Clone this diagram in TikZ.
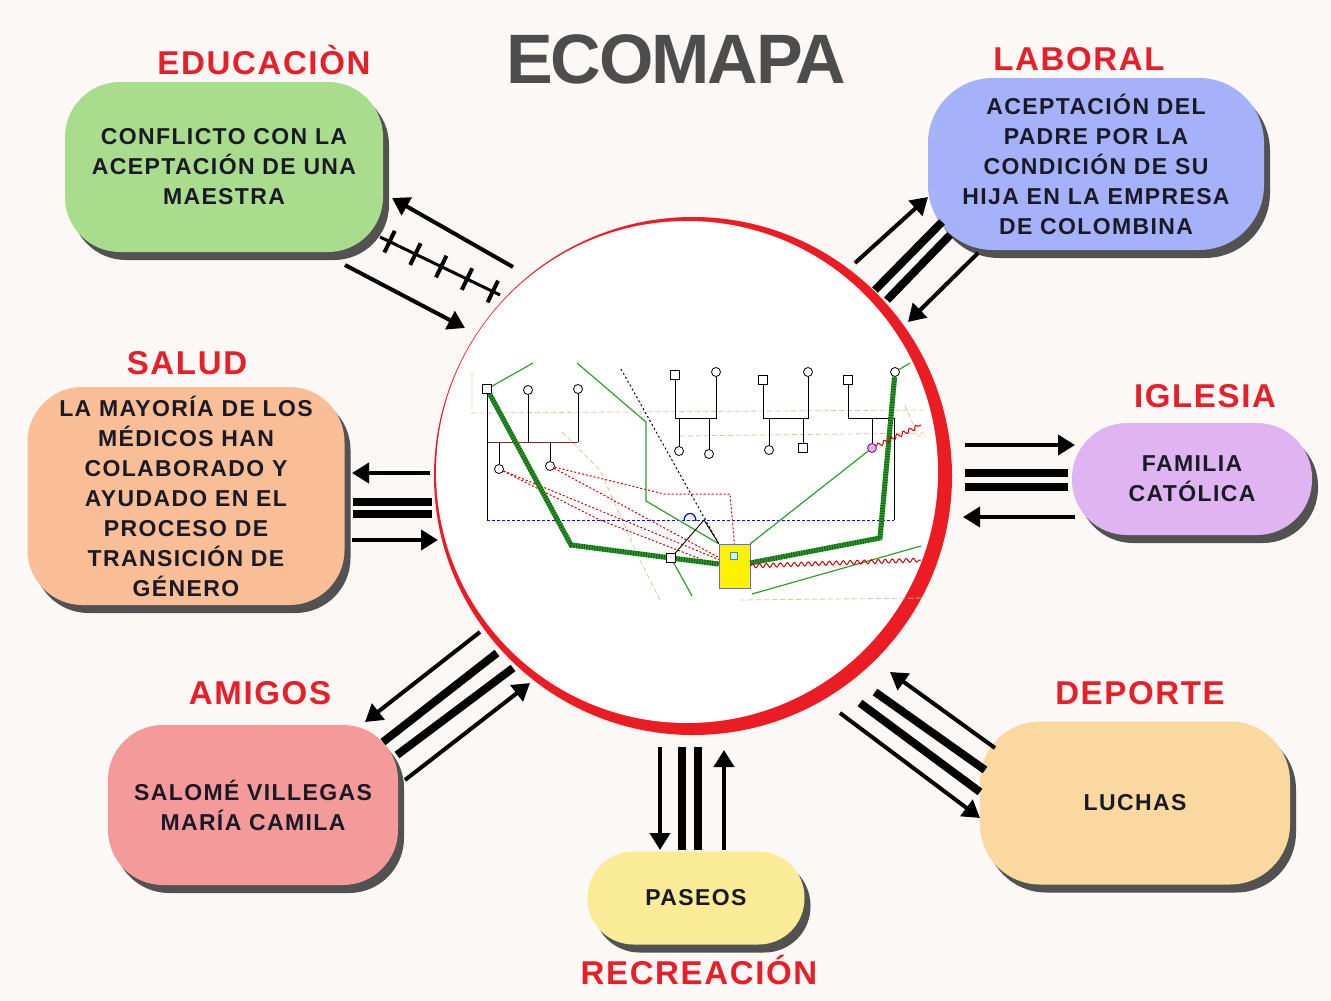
\documentclass[tikz,border=0pt]{standalone}
\usepackage{fontspec}
\setmainfont{Liberation Sans}
\newfontfamily\boxfont[LetterSpace=6]{Liberation Sans}
\newfontfamily\headfont[LetterSpace=5]{Liberation Sans}
\newfontfamily\titlefont[LetterSpace=-3]{Liberation Sans}
\usetikzlibrary{positioning,arrows.meta,shadows,decorations.markings,decorations.pathmorphing}
\definecolor{bgcol}{RGB}{251,248,245}
\definecolor{ringred}{RGB}{236,28,36}
\definecolor{headred}{RGB}{232,30,40}
\definecolor{titlegray}{RGB}{77,77,77}
\definecolor{textdark}{RGB}{26,26,38}
\definecolor{shadowgray}{RGB}{82,82,82}
\definecolor{edugreen}{RGB}{169,220,140}
\definecolor{labblue}{RGB}{165,178,250}
\definecolor{salorange}{RGB}{250,190,150}
\definecolor{iglpurple}{RGB}{224,180,240}
\definecolor{amipink}{RGB}{245,154,154}
\definecolor{recyellow}{RGB}{250,235,150}
\definecolor{deppeach}{RGB}{250,216,160}
\definecolor{genogreen}{RGB}{46,160,46}
\definecolor{genodark}{RGB}{20,100,20}
\definecolor{genobrown}{RGB}{130,40,40}
\definecolor{genofaint}{RGB}{240,190,160}

\begin{document}
\begin{tikzpicture}[x=1pt,y=-1pt,
ecobox/.style={
  rounded corners=55pt,
  align=center,
  inner sep=0pt,
  text=textdark,
  font={\boxfont\bfseries\fontsize{23pt}{30pt}\selectfont},
  drop shadow={shadow xshift=6pt,shadow yshift=-8pt,fill=shadowgray,opacity=1}},
heading/.style={font={\headfont\bfseries\fontsize{33pt}{40pt}\selectfont},text=headred},
rel/.style={line width=4pt},
relarrow/.style={rel,-{Triangle[length=17pt,width=20pt]}},
strongline/.style={line width=8pt},
conflictline/.style={line width=3pt,postaction={decorate},
  decoration={markings,mark=between positions 0.08 and 0.95 step 0.215 with {\draw[line width=4pt] (0,-12pt) -- (0,12pt);}}},
gsq/.style={draw,fill=white,minimum size=9pt,inner sep=0pt,line width=0.8pt},
gci/.style={circle,draw,fill=white,minimum size=9pt,inner sep=0pt,line width=0.8pt},
famline/.style={line width=0.9pt},
closeline/.style={line width=5pt,draw=genogreen,postaction={draw=genodark,line width=5pt,dash pattern=on 1.2pt off 1.4pt}},
thinkin/.style={line width=1.2pt,draw=genogreen},
distant/.style={line width=1pt,draw=red!80!black,dash pattern=on 2pt off 2pt},
hostil/.style={line width=1pt,draw=red!80!black,decorate,decoration={snake,amplitude=2pt,segment length=7pt}},
faint/.style={line width=0.8pt,draw=genofaint,dash pattern=on 5pt off 3pt},
]
\fill[bgcol] (0,0) rectangle (1331,1001);

% title and central ring
\node[font={\titlefont\bfseries\fontsize{70pt}{76pt}\selectfont},text=titlegray] (title) at (676,59) {ECOMAPA};
\node[circle,fill=ringred,minimum size=518pt,inner sep=0pt] (ring) at (693,476) {};
\node[circle,fill=white,minimum size=502pt,inner sep=0pt] (fam) at (687,472) {};

% genogram
\begin{scope}
\clip (466,356) rectangle (926,600);
\draw[faint] (472,372) -- (472,413) -- (924,410);
\draw[faint] (660,600) -- (640,560) -- (600,470) -- (560,430);
\draw[faint] (680,436) -- (930,433);
\draw[faint] (740,600) -- (926,598);
\draw[faint] (905,405) -- (918,436) -- (926,436);
\node[gsq] (pa1) at (487,389) {};
\node[gci] (ma1) at (528,390) {};
\node[gci] (ma2) at (578,389) {};
\node[gci] (hi1) at (499,469) {};
\node[gci] (hi2) at (550,466) {};
\node[gsq] (ab1) at (675,375) {};
\node[gci] (ab2) at (716,372) {};
\node[gci] (ti1) at (679,451) {};
\node[gci] (ti2) at (709,454) {};
\node[gsq] (ab3) at (763,380) {};
\node[gci] (ab4) at (808,372) {};
\node[gci] (ti3) at (769,450) {};
\node[gsq] (ti4) at (803,448) {};
\node[gsq] (ab5) at (848,380) {};
\node[gci] (ab6) at (895,372) {};
\node[gci,draw=violet,fill=violet!30] (pri) at (872,448) {};
\node[gsq] (her) at (671,558) {};
\node[draw=blue!60,fill=yellow,minimum width=31pt,minimum height=44pt,inner sep=0pt] (zoe) at (734.5,566) {};
\node[draw=cyan!70!black,fill=cyan!20,minimum size=7pt,inner sep=0pt] (zoei) at (734,556) {};
% family lines
\draw[famline,draw=genobrown] (pa1 |- 0,442) -- (ma2 |- 0,442);
\draw[famline] (ma1) -- (ma1 |- 0,442) (ma2) -- (ma2 |- 0,442) (hi1) -- (hi1 |- 0,442) (hi2) -- (hi2 |- 0,442);
\draw[famline] (pa1) -- (pa1 |- 0,520);
\draw[famline] (ab1) -- (ab1 |- 0,418) -- (ab2 |- 0,418) -- (ab2);
\draw[famline] (ti1) -- (ti1 |- 0,418) (ti2) -- (ti2 |- 0,418);
\draw[famline] (ab3) -- (ab3 |- 0,418) -- (ab4 |- 0,418) -- (ab4);
\draw[famline] (ti3) -- (ti3 |- 0,418) (ti4) -- (ti4 |- 0,418);
\draw[famline] (ab5) -- (ab5 |- 0,418) -- (894,418) -- (894,520);
\draw[famline] (pri) -- (pri |- 0,418);
\draw[line width=1pt,draw=blue,dash pattern=on 3pt off 2pt] (pa1 |- 0,520) -- (894,520);
\draw[line width=1.2pt,draw=blue] (684,521) .. controls (684,511) and (696,511) .. (696,521);
% relations
\draw[distant] (hi1) -- (zoe);
\draw[distant] (hi2) -- (zoe);
\draw[distant] (hi2) -- (664,494) -- (730,494) -- (zoe.north);
\draw[distant] (hi1) -- (600,520) -- (zoe.west);
\draw[line width=1pt,dash pattern=on 2pt off 2.5pt] (621,369) -- (zoe.north west);
\draw[thinkin] (pa1) -- (533,363);
\draw[thinkin] (577,363) -- (646,422) -- (646,501) -- (zoe.north west);
\draw[thinkin] (zoe.north east) -- (pri);
\draw[thinkin] (752,594) -- (921,546);
\draw[thinkin] (her) -- (692,596);
\draw[thinkin] (ab6) -- (910,363);
\draw[famline] (her) -- (704,520) -- (zoe.north west);
\draw[closeline] (pa1) -- (571,545) -- (her) -- (zoe);
\draw[closeline] (zoe) -- (880,538) -- (ab6);
\draw[hostil] (zoe.east) -- (921,560);
\draw[hostil] (pri) -- (921,425);
\end{scope}

% boxes
\node[ecobox,fill=edugreen,minimum width=318pt,minimum height=170pt] (edu) at (224,167) {CONFLICTO CON LA\\ACEPTACIÓN DE UNA\\MAESTRA};
\node[ecobox,fill=labblue,minimum width=336pt,minimum height=172pt,rounded corners=65pt] (lab) at (1096,164) {ACEPTACIÓN DEL\\PADRE POR LA\\CONDICIÓN DE SU\\HIJA EN LA EMPRESA\\DE COLOMBINA};
\node[ecobox,fill=salorange,minimum width=317pt,minimum height=218pt] (sal) at (186,496) {LA MAYORÍA DE LOS\\MÉDICOS HAN\\COLABORADO Y\\AYUDADO EN EL\\PROCESO DE\\TRANSICIÓN DE\\GÉNERO};
\node[ecobox,fill=iglpurple,minimum width=240pt,minimum height=112pt] (igl) at (1192,479) {FAMILIA\\CATÓLICA};
\node[ecobox,fill=amipink,minimum width=290pt,minimum height=160pt] (ami) at (253,805) {SALOMÉ VILLEGAS\\MARÍA CAMILA};
\node[ecobox,fill=recyellow,minimum width=217pt,minimum height=93pt,rounded corners=46pt] (pas) at (696,898) {PASEOS};
\node[ecobox,fill=deppeach,minimum width=310pt,minimum height=163pt,rounded corners=60pt] (dep) at (1135,803) {LUCHAS};

% headings
\node[heading] (eduh) at (264,60) {EDUCACIÒN};
\node[heading] (labh) at (1079,59) {LABORAL};
\node[heading] (salh) at (187,363) {SALUD};
\node[heading] (iglh) at (1205,396) {IGLESIA};
\node[heading] (amih) at (260,693) {AMIGOS};
\node[heading] (deph) at (1140,693) {DEPORTE};
\node[heading] (rech) at (699,970) {RECREACIÓN};

% connector ends
\coordinate (edu o1) at (513,267); \coordinate (edu o2) at (392,198);
\coordinate (edu c1) at (380,237); \coordinate (edu c2) at (500,295);
\coordinate (edu i1) at (345,265); \coordinate (edu i2) at (465,328);
\coordinate (lab o1) at (855,263); \coordinate (lab o2) at (928,197);
\coordinate (lab s1) at (875,290); \coordinate (lab s2) at (942,222);
\coordinate (lab t1) at (887,300); \coordinate (lab t2) at (950,235);
\coordinate (lab i1) at (978,253); \coordinate (lab i2) at (908,322);
\coordinate (igl o1) at (965,445); \coordinate (igl o2) at (1075,445);
\coordinate (igl s1) at (965,473); \coordinate (igl s2) at (1068,473);
\coordinate (igl t1) at (965,487); \coordinate (igl t2) at (1068,487);
\coordinate (igl i1) at (1075,517); \coordinate (igl i2) at (963,517);
\coordinate (sal o1) at (430,473); \coordinate (sal o2) at (352,473);
\coordinate (sal s1) at (353,502); \coordinate (sal s2) at (432,502);
\coordinate (sal t1) at (353,514); \coordinate (sal t2) at (432,514);
\coordinate (sal i1) at (352,540); \coordinate (sal i2) at (438,540);
\coordinate (ami o1) at (480,632); \coordinate (ami o2) at (365,722);
\coordinate (ami s1) at (497,653); \coordinate (ami s2) at (383,742);
\coordinate (ami t1) at (513,668); \coordinate (ami t2) at (397,755);
\coordinate (ami i1) at (405,780); \coordinate (ami i2) at (530,683);
\coordinate (pas o1) at (660,747); \coordinate (pas o2) at (660,850);
\coordinate (pas s1) at (682,747); \coordinate (pas s2) at (682,850);
\coordinate (pas t1) at (698,747); \coordinate (pas t2) at (698,850);
\coordinate (pas i1) at (724,850); \coordinate (pas i2) at (724,750);
\coordinate (dep o1) at (840,713); \coordinate (dep o2) at (980,818);
\coordinate (dep s1) at (875,692); \coordinate (dep s2) at (985,770);
\coordinate (dep t1) at (860,703); \coordinate (dep t2) at (980,792);
\coordinate (dep i1) at (995,748); \coordinate (dep i2) at (890,672);

% connectors
\draw[relarrow] (edu o1) -- (edu o2);
\draw[conflictline] (edu c1) -- (edu c2);
\draw[relarrow] (edu i1) -- (edu i2);
\foreach \r in {lab,igl,sal,ami,pas,dep}{
  \draw[relarrow] (\r\space o1) -- (\r\space o2);
  \draw[strongline] (\r\space s1) -- (\r\space s2);
  \draw[strongline] (\r\space t1) -- (\r\space t2);
  \draw[relarrow] (\r\space i1) -- (\r\space i2);
}
\end{tikzpicture}
\end{document}
